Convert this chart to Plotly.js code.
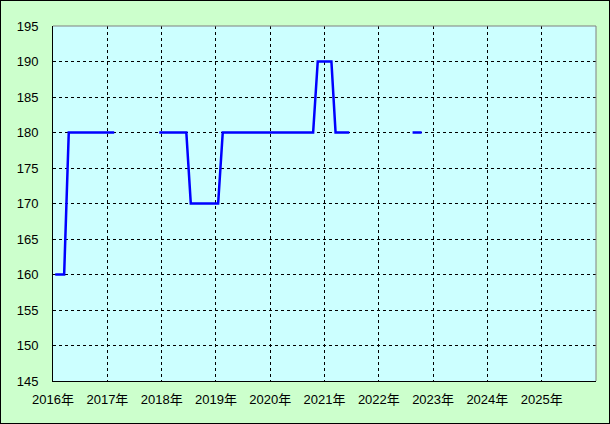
<!DOCTYPE html>
<html>
<head>
<meta charset="utf-8">
<script src="https://cdn.plot.ly/plotly-3.0.1.min.js"></script>
<style>
html,body{margin:0;padding:0;background:#CCFFCC;}
#wrap{width:610px;height:424px;box-sizing:border-box;border:1px solid #000;background:#CCFFCC;}
#chart{width:608px;height:422px;}
</style>
</head>
<body>
<div id="wrap"><div id="chart"></div></div>
<script>
// Monthly series starting Jan 2016 (points placed mid-month); null = no data
const startYear = 2016;
const values = [
  160,160,160,180,180,180,180,180,180,180,180,180,   // 2016
  180,180,null,null,null,null,null,null,null,null,null,180, // 2017
  180,180,180,180,180,180,170,170,170,170,170,170,   // 2018
  170,180,180,180,180,180,180,180,180,180,180,180,   // 2019
  180,180,180,180,180,180,180,180,180,180,190,190,   // 2020
  190,190,180,180,180,180,null,null,null,null,null,null, // 2021
  null,null,null,null,null,null,null,180,180,180     // 2022
];
const yearTicks = [2016,2017,2018,2019,2020,2021,2022,2023,2024,2025];
const yearLabels = ['2016年','2017年','2018年','2019年','2020年','2021年','2022年','2023年','2024年','2025年'];
const yTicks = [145,150,155,160,165,170,175,180,185,190,195];

const dates = values.map((v,i)=>{
  const y = startYear + Math.floor(i/12);
  const m = (i%12)+1;
  return y + '-' + String(m).padStart(2,'0') + '-16';
});

const trace = {
  x: dates, y: values, type:'scatter', mode:'lines',
  line:{color:'#0000FF', width:2.5}, connectgaps:false, hoverinfo:'skip'
};

const fontFam = 'Liberation Sans, Noto Sans CJK JP, sans-serif';
const layout = {
  width:608, height:422,
  margin:{l:52,r:13,t:25,b:42},
  paper_bgcolor:'#CCFFCC', plot_bgcolor:'#CCFFFF',
  showlegend:false,
  font:{family:fontFam, size:13, color:'#000'},
  xaxis:{
    type:'date', range:['2016-01-01','2026-01-01'],
    tickvals: yearTicks.map(y=>y+'-01-01'), ticktext: yearLabels,
    showgrid:true, gridcolor:'#000', griddash:'3px,3px', gridwidth:1,
    showline:true, linecolor:'#000', linewidth:1,
    ticks:'outside', ticklen:6, tickcolor:'rgba(0,0,0,0)',
    zeroline:false, fixedrange:true,
    tickfont:{family:fontFam, size:13, color:'#000'}
  },
  yaxis:{
    range:[145,195], tickvals:yTicks,
    showgrid:true, gridcolor:'#000', griddash:'3px,3px', gridwidth:1,
    showline:true, linecolor:'#000', linewidth:1,
    ticks:'outside', ticklen:11, tickcolor:'rgba(0,0,0,0)',
    zeroline:false, fixedrange:true,
    tickfont:{family:fontFam, size:13, color:'#000'}
  },
  shapes:[
    {type:'line', xref:'paper', yref:'paper', x0:0, x1:1, y0:1, y1:1, line:{color:'#808080', width:1}},
    {type:'line', xref:'paper', yref:'paper', x0:1, x1:1, y0:0, y1:1, line:{color:'#808080', width:1}}
  ]
};

Plotly.newPlot('chart', [trace], layout, {displayModeBar:false, staticPlot:true});
</script>
</body>
</html>
